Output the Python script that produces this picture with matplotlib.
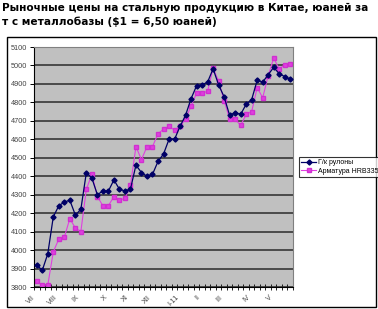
import matplotlib
matplotlib.use("Agg")
import matplotlib.pyplot as plt
from matplotlib.patches import Rectangle

# Г/к рулоны (горячекатаный прокат), юаней за т
coils = [3920, 3890, 3980, 4180, 4240, 4260, 4270, 4190, 4220, 4420,
         4390, 4300, 4320, 4320, 4380, 4330, 4320, 4330, 4460, 4420,
         4400, 4410, 4480, 4520, 4600, 4600, 4670, 4730, 4820, 4890,
         4895, 4910, 4982, 4895, 4830, 4730, 4745, 4735, 4790, 4815,
         4920, 4910, 4950, 4990, 4955, 4940, 4925]
# Арматура HRB335
rebar = [3830, 3810, 3810, 3990, 4060, 4070, 4170, 4120, 4100, 4330,
         4410, 4290, 4240, 4240, 4290, 4270, 4280, 4350, 4560, 4490,
         4560, 4560, 4630, 4655, 4670, 4650, 4670, 4710, 4780, 4850,
         4850, 4860, 4985, 4915, 4810, 4710, 4710, 4675, 4735, 4750,
         4880, 4825, 4945, 5040, 4980, 5005, 5010]

month_pos = [0, 4, 8, 13, 17, 21, 26, 30, 34, 39, 43]
month_labels = ["VII", "VIII", "IX", "X", "XI", "XII", "I-11", "II", "III", "IV", "V"]
yticks = list(range(3800, 5101, 100))

W, H = 378, 309
fig = plt.figure(figsize=(W / 100, H / 100), dpi=100)
fig.patch.set_facecolor("white")

# рамка диаграммы
fig.patches.append(Rectangle((7 / W, 1 - 307 / H), 369 / W, 270 / H,
                             transform=fig.transFigure, fill=False,
                             edgecolor="black", linewidth=1.0))

fig.text(2 / W, 1 - 3 / H,
         "Рыночные цены на стальную продукцию в Китае, юаней за\n"
         "т с металлобазы ($1 = 6,50 юаней)",
         ha="left", va="top", fontsize=7.6, fontweight="bold",
         family="DejaVu Sans", linespacing=1.4)

ax = fig.add_axes([34 / W, 1 - 287 / H, (293 - 34) / W, (287 - 47) / H])
ax.set_facecolor("#C0C0C0")
for s in ax.spines.values():
    s.set_color("#808080")
    s.set_linewidth(0.8)
ax.spines["left"].set_color("black")
ax.spines["bottom"].set_color("black")

x = list(range(len(coils)))
ax.plot(x, coils, color="#000066", linewidth=0.9, marker="D", markersize=2.6,
        label="Г/к рулоны", zorder=3)
ax.plot(x, rebar, color="#E040E0", linewidth=0.8, marker="s", markersize=3.4,
        markeredgecolor="#D030D0", label="Арматура HRB335", zorder=2)

ax.set_xlim(-0.5, len(coils) - 0.5)
ax.set_ylim(3800, 5100)
ax.set_yticks(yticks)
ax.set_yticklabels([str(v) for v in yticks], fontsize=5.3, family="Liberation Sans",
                   color="#444444")
ax.yaxis.grid(True, color="#2a2a2a", linewidth=1.1)
ax.set_axisbelow(True)
ax.tick_params(axis="y", direction="out", length=3, width=0.7, pad=2)

ax.set_xticks(month_pos)
ax.set_xticklabels(month_labels, rotation=45, ha="right", fontsize=5.3,
                   family="Liberation Sans", color="#444444")
ax.set_xticks([i - 0.5 for i in range(len(coils) + 1)], minor=True)
ax.tick_params(axis="x", which="major", length=0, pad=5)
ax.tick_params(axis="x", which="minor", direction="inout", length=4, width=0.6)

leg = fig.legend(loc="upper left", bbox_to_anchor=(299 / W, 1 - 157 / H),
                 prop={"family": "Liberation Sans", "size": 5.0},
                 frameon=True, fancybox=False, edgecolor="black",
                 borderpad=0.3, handlelength=2.2, handletextpad=0.3,
                 labelspacing=0.25, borderaxespad=0)
leg.get_frame().set_linewidth(0.8)

fig.savefig("out.png", dpi=100)
